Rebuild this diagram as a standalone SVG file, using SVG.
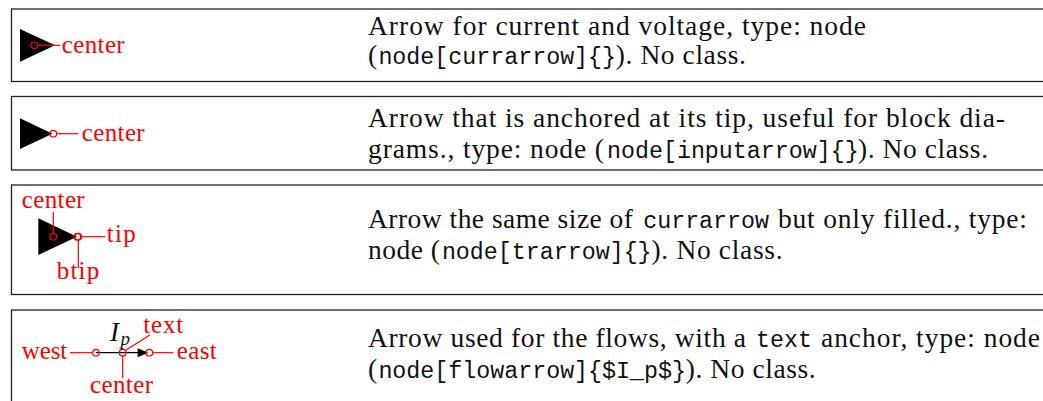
<svg xmlns="http://www.w3.org/2000/svg" width="1043" height="401" viewBox="0 0 1043 401">
<style>
.box{fill:#fff;stroke:#222;stroke-width:1.3}
.d{font-family:"Liberation Serif",serif;font-size:27.5px;fill:#111}
.m{font-family:"Liberation Mono",monospace;font-size:23.3px;fill:#111}
.lab{font-family:"Liberation Serif",serif;font-size:25px;fill:#f00}
.anc{fill:none;stroke:#f00;stroke-width:1.2}
.lead{stroke:#f00;stroke-width:1.2;fill:none}
.blk{fill:#000}
.it{font-family:"Liberation Serif",serif;font-style:italic;fill:#111}
</style>
<rect width="1043" height="401" fill="#fff"/>
<g id="row1">
  <rect class="box" x="11.5" y="9" width="1100" height="72.5"/>
  <polygon class="blk" points="20,29 55,45.3 20,61.7"/>
  <circle class="anc" cx="34.3" cy="45.3" r="3.3"/>
  <text class="lab" x="61.7" y="52.7" textLength="63" lengthAdjust="spacing">center</text>
  <text class="d" x="368" y="35" textLength="498" lengthAdjust="spacing">Arrow for current and voltage, type: node</text>
  <text class="d" x="368" y="64">(</text>
  <text class="m" x="378.4" y="64">node[currarrow]{}</text>
  <text class="d" x="615.8" y="64" textLength="130" lengthAdjust="spacing">). No class.</text>
</g>
<g id="row2">
  <rect class="box" x="11.5" y="96.5" width="1100" height="73.5"/>
  <polygon class="blk" points="20,118.3 52.5,133.7 20,149"/>
  <circle class="anc" cx="53.3" cy="133.7" r="3.3"/>
  <text class="lab" x="81.7" y="141" textLength="63" lengthAdjust="spacing">center</text>
  <text class="d" x="368" y="127" textLength="637" lengthAdjust="spacing">Arrow that is anchored at its tip, useful for block dia-</text>
  <text class="d" x="368" y="158" textLength="236" lengthAdjust="spacing">grams., type: node (</text>
  <text class="m" x="607" y="158">node[inputarrow]{}</text>
  <text class="d" x="858" y="158" textLength="130" lengthAdjust="spacing">). No class.</text>
</g>
<g id="row3">
  <rect class="box" x="11.5" y="185" width="1100" height="109.5"/>
  <polygon class="blk" points="38.3,218.3 77,236.7 38.3,255"/>
  <circle class="anc" cx="53.3" cy="236.7" r="3.3"/>
  <circle class="anc" cx="77.3" cy="236.7" r="3.3"/>
  <circle class="anc" cx="78.3" cy="236.7" r="3.3"/>
  <text class="lab" x="21.7" y="208" textLength="63" lengthAdjust="spacing">center</text>
  <text class="lab" x="106.7" y="241.7" textLength="29" lengthAdjust="spacing">tip</text>
  <text class="lab" x="56.7" y="279" textLength="42.6" lengthAdjust="spacing">btip</text>
  <text class="d" x="368" y="228" textLength="265" lengthAdjust="spacing">Arrow the same size of</text>
  <text class="m" x="643.2" y="228">currarrow</text>
  <text class="d" x="778" y="228" textLength="249" lengthAdjust="spacing">but only filled., type:</text>
  <text class="d" x="368" y="259" textLength="72" lengthAdjust="spacing">node (</text>
  <text class="m" x="441.9" y="259">node[trarrow]{}</text>
  <text class="d" x="651.5" y="259" textLength="131" lengthAdjust="spacing">). No class.</text>
</g>
<g id="row4">
  <rect class="box" x="11.5" y="310" width="1100" height="200"/>
  <line x1="96" y1="352.7" x2="142" y2="352.7" stroke="#000" stroke-width="1.3"/>
  <polygon class="blk" points="137.7,348.3 148.3,352.7 137.7,357.3"/>
  <circle class="anc" cx="96" cy="352.7" r="3.3"/>
  <circle class="anc" cx="122.7" cy="352.7" r="3.3"/>
  <circle class="anc" cx="149.3" cy="352.7" r="3.3"/>
  <text class="it" x="110" y="341" font-size="27">I</text>
  <text class="it" x="120.5" y="344.5" font-size="19">p</text>
  <text class="lab" x="21.7" y="359.3" textLength="45.6" lengthAdjust="spacing">west</text>
  <text class="lab" x="176.7" y="359.3" textLength="40" lengthAdjust="spacing">east</text>
  <text class="lab" x="90" y="393.3" textLength="63" lengthAdjust="spacing">center</text>
  <text class="lab" x="143.3" y="333.3" textLength="40" lengthAdjust="spacing">text</text>
  <text class="d" x="368" y="347" textLength="378" lengthAdjust="spacing">Arrow used for the flows, with a</text>
  <text class="m" x="756" y="347">text</text>
  <text class="d" x="821" y="347" textLength="219" lengthAdjust="spacing">anchor, type: node</text>
  <text class="d" x="368" y="378">(</text>
  <text class="m" x="378.4" y="378">node[flowarrow]{$I_p$}</text>
  <text class="d" x="685.7" y="378" textLength="130" lengthAdjust="spacing">). No class.</text>
</g>
<g id="connectors">
  <line class="lead" x1="37.6" y1="45.3" x2="60" y2="45.3"/>
  <line class="lead" x1="56.6" y1="133.7" x2="78" y2="133.7"/>
  <line class="lead" x1="53.3" y1="233.4" x2="53.3" y2="211.7"/>
  <line class="lead" x1="81.6" y1="236.7" x2="105" y2="236.7"/>
  <line class="lead" x1="78.3" y1="240" x2="78.3" y2="268"/>
  <line class="lead" x1="70" y1="352.7" x2="92.7" y2="352.7"/>
  <line class="lead" x1="152.6" y1="352.7" x2="173.3" y2="352.7"/>
  <line class="lead" x1="122.7" y1="356" x2="122.7" y2="378.3"/>
  <line class="lead" x1="125.3" y1="350.5" x2="150" y2="335"/>
</g>
</svg>
